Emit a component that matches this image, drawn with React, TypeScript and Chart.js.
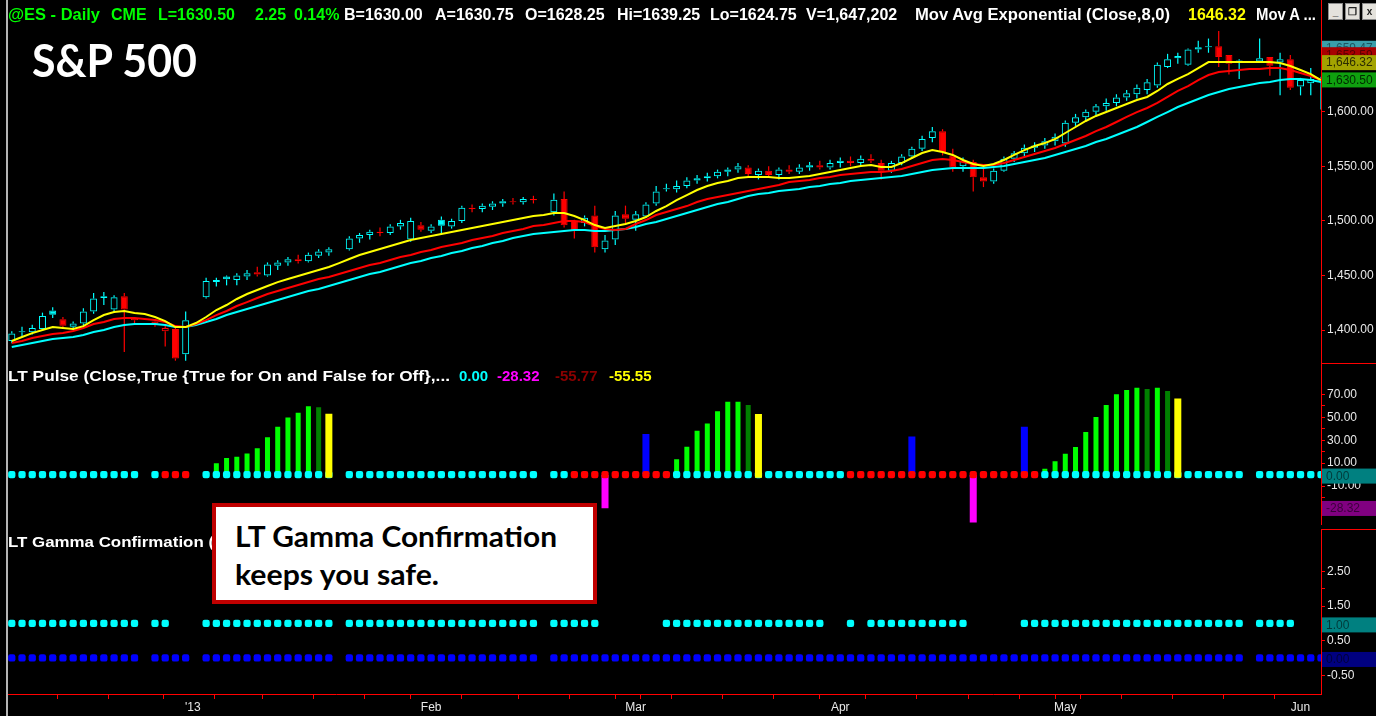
import React, { useEffect, useLayoutEffect, useRef } from 'react';
import { Chart, registerables } from 'chart.js';

Chart.register(...registerables);

// ======================= DATA =======================
// one slot per trading-day bar (index 0 .. 128); null = holiday slot without a bar
const opens: (number | null)[] = [
  1390, 1399, 1398, 1401, 1418, 1410, 1403, 1406, 1417, 1431,
  1419, 1431, 1409, null, 1408, 1399, 1401, 1378, null, 1430,
  1444, 1449, 1446, 1449, 1453, 1450, 1459, 1462, 1465, 1463,
  1468, 1471, null, 1474, 1484, 1487, 1490, 1489, 1495, 1483,
  1496, 1491, 1501, 1495, 1500, 1512, 1511, 1513, 1516, 1518,
  1517, 1520, null, 1508, 1520, 1500, 1498, 1505, 1474, 1483,
  1506, 1501, 1504, 1516, 1529, 1529, 1532, 1537, 1539, 1541,
  1545, 1547, 1549, 1542, 1546, 1542, 1547, 1545, 1549, 1551,
  1549, 1553, 1555, 1553, 1557, 1553, 1546, 1553, 1559, 1566,
  1576, 1582, 1560, 1550, 1554, 1540, 1536, 1546, 1557, 1562,
  1567, 1569, 1573, 1571, 1590, 1595, 1600, 1605, 1608, 1613,
  1616, 1620, 1624, 1641, 1651, 1643, 1657, 1659, 1660, 1652,
  1645, null, 1646, 1650, 1645, 1648, 1623, 1626, 1628.25,
];
const highs: (number | null)[] = [
  1399, 1403, 1405, 1416, 1421, 1412, 1408, 1420, 1434, 1435,
  1432, 1434, 1412, null, 1410, 1404, 1402, 1417, null, 1448,
  1448, 1450, 1452, 1455, 1458, 1462, 1464, 1467, 1469, 1471,
  1474, 1476, null, 1486, 1489, 1492, 1494, 1497, 1501, 1503,
  1499, 1497, 1504, 1502, 1514, 1515, 1516, 1518, 1520, 1521,
  1522, 1523, null, 1525, 1527, 1501, 1505, 1514, 1487, 1509,
  1514, 1509, 1517, 1532, 1534, 1537, 1540, 1542, 1544, 1547,
  1549, 1553, 1551, 1548, 1550, 1549, 1551, 1552, 1554, 1555,
  1556, 1558, 1559, 1560, 1561, 1556, 1555, 1561, 1568, 1578,
  1586, 1584, 1566, 1558, 1556, 1548, 1548, 1559, 1564, 1570,
  1572, 1576, 1580, 1592, 1598, 1602, 1607, 1612, 1616, 1620,
  1625, 1630, 1645, 1653, 1654, 1658, 1665, 1667, 1674, 1652,
  1648, null, 1667, 1650, 1654, 1652, 1631, 1640, 1632,
];
const lows: (number | null)[] = [
  1388, 1394, 1396, 1400, 1411, 1402, 1400, 1404, 1415, 1423,
  1416, 1380, 1406, null, 1403, 1385, 1372, 1372, null, 1429,
  1440, 1441, 1441, 1446, 1449, 1449, 1455, 1459, 1461, 1462,
  1466, 1468, null, 1473, 1480, 1483, 1486, 1487, 1492, 1481,
  1490, 1489, 1487, 1493, 1498, 1508, 1508, 1510, 1513, 1515,
  1515, 1516, null, 1505, 1494, 1484, 1495, 1471, 1471, 1478,
  1497, 1491, 1503, 1514, 1527, 1526, 1530, 1534, 1536, 1539,
  1541, 1544, 1540, 1538, 1540, 1538, 1543, 1543, 1546, 1547,
  1547, 1549, 1550, 1550, 1553, 1538, 1544, 1551, 1557, 1564,
  1572, 1560, 1545, 1545, 1527, 1531, 1534, 1545, 1554, 1559,
  1563, 1566, 1569, 1568, 1587, 1592, 1597, 1601, 1605, 1610,
  1612, 1616, 1622, 1640, 1644, 1642, 1654, 1654, 1641, 1634,
  1630, null, 1645, 1633, 1615, 1620, 1615, 1615, 1602,
];
const closes: (number | null)[] = [
  1397, 1398, 1402, 1413, 1414, 1404, 1406, 1417, 1429, 1429.5,
  1430, 1419, 1411, null, 1405, 1402, 1374, 1409, null, 1445,
  1446, 1446.5, 1450, 1452, 1451, 1460, 1462, 1465, 1463, 1469,
  1472, 1474, null, 1484, 1487, 1490, 1489, 1495, 1498, 1500,
  1492, 1495, 1495.5, 1500, 1512, 1511, 1514, 1516, 1518, 1517,
  1520, 1519, null, 1519.5, 1496, 1491, 1503, 1476, 1482, 1505,
  1502, 1506, 1515, 1527, 1530, 1532, 1537, 1539, 1541, 1545,
  1547, 1550, 1543, 1546, 1542, 1547, 1545, 1549, 1551, 1549,
  1553, 1555, 1553, 1557, 1555, 1546, 1553, 1559, 1566, 1575,
  1582, 1563, 1549, 1555, 1540, 1536, 1546, 1557, 1562, 1567,
  1569, 1573, 1577, 1590, 1595, 1600, 1605, 1608, 1613, 1617,
  1622, 1627, 1643, 1648, 1649, 1657, 1659, 1660, 1650, 1644,
  1647, null, 1649, 1642, 1648, 1622, 1629, 1630, 1630.5,
];
// Mov Avg Exponential (Close,8,0) - yellow
const emaFast: number[] = [
  1390.0, 1393.7, 1397.3, 1400.1, 1402.8, 1401.9, 1401.0, 1403.7, 1409.2, 1413.8,
  1416.6, 1417.5, 1415.6, 1414.7, 1412.0, 1408.3, 1402.8, 1402.8, 1406.5, 1412.0,
  1418.4, 1423.0, 1428.5, 1433.1, 1436.7, 1440.4, 1444.0, 1446.8, 1449.5, 1452.3,
  1455.0, 1457.8, 1461.4, 1465.1, 1468.8, 1471.5, 1474.3, 1477.0, 1479.8, 1482.5,
  1484.3, 1486.2, 1488.0, 1489.8, 1491.7, 1493.5, 1495.3, 1497.2, 1499.0, 1500.8,
  1502.7, 1504.5, 1505.4, 1507.2, 1507.2, 1504.5, 1500.8, 1496.2, 1493.5, 1495.3,
  1497.2, 1499.9, 1503.6, 1509.1, 1513.6, 1519.1, 1523.7, 1528.3, 1532.0, 1534.7,
  1536.5, 1539.3, 1540.2, 1540.2, 1540.2, 1539.3, 1539.3, 1540.2, 1541.1, 1543.0,
  1544.8, 1546.6, 1548.4, 1550.3, 1551.2, 1549.4, 1549.4, 1553.0, 1557.6, 1562.2,
  1564.9, 1563.1, 1560.4, 1555.8, 1552.1, 1550.3, 1552.1, 1555.8, 1560.4, 1564.9,
  1568.6, 1571.3, 1575.0, 1580.5, 1586.0, 1591.5, 1596.1, 1599.7, 1603.4, 1607.1,
  1610.7, 1613.5, 1619.0, 1625.4, 1630.0, 1634.5, 1640.0, 1645.5, 1645.5, 1645.5,
  1645.5, 1645.5, 1645.5, 1645.5, 1644.6, 1641.9, 1638.2, 1634.5, 1629.0,
];
// second average - red
const emaMid: number[] = [
  1388.2, 1390.0, 1392.8, 1394.6, 1396.4, 1397.3, 1399.2, 1401.9, 1405.6, 1407.4,
  1410.2, 1411.1, 1411.1, 1410.2, 1409.2, 1407.4, 1403.7, 1402.8, 1405.6, 1409.2,
  1413.8, 1417.5, 1422.1, 1425.7, 1429.4, 1433.1, 1435.8, 1438.5, 1441.3, 1444.0,
  1446.8, 1448.6, 1451.4, 1454.1, 1456.9, 1459.6, 1461.4, 1464.2, 1466.9, 1468.8,
  1471.5, 1473.3, 1476.1, 1477.9, 1479.8, 1482.5, 1484.3, 1486.2, 1488.9, 1490.8,
  1492.6, 1495.3, 1496.2, 1498.1, 1499.9, 1499.9, 1499.0, 1495.3, 1492.6, 1491.7,
  1492.6, 1497.2, 1500.8, 1505.4, 1508.2, 1510.9, 1513.6, 1517.3, 1520.1, 1521.9,
  1523.7, 1525.6, 1527.4, 1529.2, 1531.0, 1532.9, 1535.6, 1536.5, 1537.5, 1539.3,
  1540.2, 1542.0, 1543.0, 1543.9, 1544.8, 1544.8, 1545.7, 1547.5, 1550.3, 1553.0,
  1555.8, 1556.7, 1555.8, 1553.9, 1552.1, 1551.2, 1551.2, 1553.0, 1555.8, 1558.5,
  1561.3, 1564.0, 1566.8, 1570.4, 1574.1, 1577.8, 1582.3, 1586.0, 1590.6, 1595.2,
  1599.7, 1603.4, 1608.0, 1613.5, 1619.0, 1623.5, 1629.0, 1633.6, 1636.4, 1637.3,
  1638.2, 1639.1, 1639.1, 1640.0, 1640.0, 1638.2, 1635.4, 1632.7, 1629.0,
];
// third average - cyan
const emaSlow: number[] = [
  1384.5, 1386.4, 1388.2, 1390.0, 1391.8, 1392.8, 1393.7, 1395.5, 1398.3, 1400.1,
  1402.8, 1404.7, 1405.6, 1405.6, 1405.6, 1404.7, 1402.8, 1402.8, 1404.7, 1407.4,
  1410.2, 1413.8, 1416.6, 1419.3, 1422.1, 1424.8, 1427.6, 1430.3, 1433.1, 1435.8,
  1437.6, 1440.4, 1443.1, 1445.9, 1448.6, 1451.4, 1453.2, 1455.9, 1458.7, 1461.4,
  1463.3, 1466.0, 1467.9, 1470.6, 1472.4, 1475.2, 1477.0, 1479.8, 1481.6, 1484.3,
  1486.2, 1488.0, 1488.9, 1489.8, 1490.8, 1491.7, 1491.7, 1490.8, 1490.8, 1491.7,
  1492.6, 1494.4, 1497.2, 1499.0, 1501.7, 1504.5, 1507.2, 1510.0, 1512.7, 1515.5,
  1517.3, 1520.1, 1522.8, 1524.6, 1525.6, 1527.4, 1528.3, 1529.2, 1531.0, 1532.0,
  1533.8, 1534.7, 1536.5, 1537.5, 1538.4, 1539.3, 1540.2, 1541.1, 1543.0, 1544.8,
  1546.6, 1547.5, 1548.4, 1548.4, 1548.4, 1548.4, 1549.4, 1550.3, 1552.1, 1553.9,
  1555.8, 1557.6, 1560.4, 1563.1, 1565.8, 1568.6, 1572.3, 1575.0, 1578.7, 1582.3,
  1586.0, 1590.6, 1595.2, 1599.7, 1604.3, 1608.0, 1611.6, 1615.3, 1618.0, 1620.8,
  1622.6, 1624.5, 1626.3, 1627.2, 1629.0, 1630.0, 1630.0, 1629.0, 1627.2,
];
const priceMarkers = [1659.47, 1653.59, 1646.32, 1630.5];
const priceTicks = [1400, 1450, 1500, 1550, 1600];

// LT Pulse: dot state at 0 per bar, as runs (c = on/cyan, r = off/red, . = none)
const pulseDotRuns: [string, number][] = [
  ['c', 13], ['.', 1], ['c', 1], ['r', 3], ['.', 1], ['c', 13], ['.', 1], ['c', 19], ['.', 1],
  ['c', 2], ['r', 10], ['c', 17], ['r', 19], ['c', 20], ['.', 1], ['c', 7],
];
// histogram [barIndex, value]
const pulseRise: [number, number][] = [
  [20, 10], [21, 14.4], [22, 15.6], [23, 18.4], [24, 23.1], [25, 32.7], [26, 41.8], [27, 49.9], [28, 54], [29, 59.8],
  [65, 13.4], [66, 24.4], [67, 38.3], [68, 44.6], [69, 55.4], [70, 63.7], [71, 63.7],
  [101, 5.1], [102, 11.7], [103, 18.3], [104, 24.1], [105, 37.2], [106, 50.4], [107, 60.9], [108, 70.3], [109, 73.9], [110, 75.9], [112, 75.9],
];
const pulseFade: [number, number][] = [[30, 59.0], [72, 60.9], [111, 74.8], [113, 73.1]];
const pulseExit: [number, number][] = [[31, 53.3], [73, 52.9], [114, 66.5]];
const pulseSignal: [number, number][] = [[62, 35.5], [88, 33.3], [99, 41.8]];
const pulseNeg: [number, number][] = [[58, -29.5], [94, -42]];
const pulseMarkers = [0, -28.32];
const pulseTicks = [-20, -10, 0, 10, 20, 30, 40, 50, 60, 70];
const pulseLabelled = [70, 50, 30, 10, -10];

// LT Gamma Confirmation: runs (1 = plotted, . = none)
const gammaConfirmRuns: [string, number][] = [
  ['1', 13], ['.', 1], ['1', 2], ['.', 3], ['1', 13], ['.', 1], ['1', 19], ['.', 1], ['1', 5], ['.', 6],
  ['1', 16], ['.', 2], ['1', 1], ['.', 1], ['1', 10], ['.', 5], ['1', 22], ['.', 1], ['1', 4], ['.', 3],
];
const gammaBaseRuns: [string, number][] = [
  ['1', 13], ['.', 1], ['1', 4], ['.', 1], ['1', 13], ['.', 1], ['1', 19], ['.', 1], ['1', 68], ['.', 1], ['1', 7],
];
const gammaMarkers = [1, 0];
const gammaTicks = [-0.5, 0, 0.5, 1, 1.5, 2, 2.5];
const gammaLabelled = [2.5, 1.5, 0.5, -0.5];

// x axis
const monthIdx = [17.7, 41, 61, 81, 103, 126];
const monthLabels = ["'13", 'Feb', 'Mar', 'Apr', 'May', 'Jun'];
const weekIdx = [2, 7, 12, 22, 27, 32, 37, 47, 52, 57, 62, 67, 72, 77, 86, 91, 96, 101, 106, 111, 116, 121];

// ======================= STYLE / LAYOUT =======================
const W = 1376;
const PLOT_LEFT = 8;
const AXIS_W = 55;
const X_MIN = -0.37;
const X_MAX = 128;
const CYAN = '#00ffff';
const RED = '#ff0000';
const YELLOW = '#ffff00';
const AXIS_RED = '#ff0000';
const LABEL = '#e8e8e8';
const FONT = '"Liberation Sans", Arial, sans-serif';

Chart.defaults.font.family = FONT;

function expandRuns(runs: [string, number][]): string[] {
  const out: string[] = [];
  runs.forEach(([s, n]) => {
    for (let k = 0; k < n; k++) out.push(s);
  });
  return out;
}

function fmt2(v: number): string {
  return v.toLocaleString('en-US', { minimumFractionDigits: 2, maximumFractionDigits: 2 });
}

type Marker = { v: number; bg: string; fg: string };

function markerPlugin(markers: Marker[], topLine: boolean) {
  return {
    id: 'markers',
    afterDraw(chart: any) {
      const ctx = chart.ctx;
      const area = chart.chartArea;
      const ys = chart.scales.y;
      ctx.save();
      ctx.strokeStyle = AXIS_RED;
      ctx.lineWidth = 1;
      ctx.beginPath();
      ctx.moveTo(Math.round(area.right) + 0.5, 0);
      ctx.lineTo(Math.round(area.right) + 0.5, area.bottom);
      if (topLine) {
        ctx.moveTo(area.right, 0.5);
        ctx.lineTo(chart.width, 0.5);
      }
      ctx.stroke();
      for (const m of markers) {
        const cy = ys.getPixelForValue(m.v) + 1.5;
        ctx.fillStyle = m.bg;
        ctx.fillRect(area.right + 1, cy - 7.5, chart.width - area.right - 1, 15);
        ctx.fillStyle = m.fg;
        ctx.font = `12px ${FONT}`;
        ctx.textBaseline = 'middle';
        ctx.textAlign = 'left';
        ctx.fillText(fmt2(m.v), area.right + 5, cy + 0.5);
      }
      ctx.restore();
    },
  };
}

function yAxis(min: number, max: number, ticks: number[], labelled: number[] | null) {
  return {
    type: 'linear',
    position: 'right',
    min,
    max,
    bounds: 'data',
    afterFit: (s: any) => {
      s.width = AXIS_W;
      s.paddingTop = 0;
      s.paddingBottom = 0;
    },
    afterBuildTicks: (s: any) => {
      s.ticks = ticks.map((v) => ({ value: v }));
    },
    ticks: {
      autoSkip: false,
      padding: 2,
      color: LABEL,
      font: { size: 12, family: FONT },
      callback: (v: number) => (labelled === null || labelled.includes(v) ? fmt2(v) : ''),
    },
    grid: { drawOnChartArea: false, color: AXIS_RED, tickLength: 4, tickColor: AXIS_RED },
    border: { display: true, color: AXIS_RED, width: 1 },
  };
}

function xAxis(show: boolean) {
  const all = [...weekIdx, ...monthIdx].sort((a, b) => a - b);
  return {
    type: 'linear',
    display: show,
    min: X_MIN,
    max: X_MAX,
    bounds: 'data',
    offset: false,
    afterFit: (s: any) => {
      if (show) s.height = 22;
      s.paddingLeft = 0;
      s.paddingRight = 0;
    },
    afterBuildTicks: (s: any) => {
      s.ticks = all.map((v) => ({ value: v }));
    },
    ticks: {
      autoSkip: false,
      maxRotation: 0,
      padding: 1,
      color: LABEL,
      font: { size: 12, family: FONT },
      callback: (v: number) => {
        const k = monthIdx.indexOf(v);
        return k >= 0 ? monthLabels[k] : '';
      },
    },
    grid: { drawOnChartArea: false, color: AXIS_RED, tickLength: 5, tickColor: AXIS_RED },
    border: { display: true, color: AXIS_RED, width: 1 },
  };
}

const baseOptions = {
  animation: false,
  responsive: false,
  maintainAspectRatio: false,
  devicePixelRatio: 1,
  events: [],
  layout: { padding: { left: PLOT_LEFT, right: 0, top: 0, bottom: 0 } },
  plugins: { legend: { display: false }, tooltip: { enabled: false }, title: { display: false } },
};

function makePrice(canvas: HTMLCanvasElement) {
  const bodies: any[] = [];
  const bodyFill: string[] = [];
  const bodyLine: string[] = [];
  const upper: any[] = [];
  const upperCol: string[] = [];
  const lower: any[] = [];
  const lowerCol: string[] = [];
  let prev: number | null = null;
  closes.forEach((c, i) => {
    const o = opens[i];
    const h = highs[i];
    const l = lows[i];
    if (c == null || o == null || h == null || l == null) return;
    const up = prev == null ? c >= o : c >= prev;
    const col = up ? CYAN : RED;
    const hollow = c >= o;
    const top = Math.max(o, c);
    const bot = Math.min(o, c);
    bodies.push({ x: i, y: [bot, top] });
    bodyFill.push(hollow ? 'rgba(0,0,0,0)' : col);
    bodyLine.push(col);
    if (h > top) {
      upper.push({ x: i, y: [top, h] });
      upperCol.push(col);
    }
    if (l < bot) {
      lower.push({ x: i, y: [l, bot] });
      lowerCol.push(col);
    }
    prev = c;
  });
  const line = (arr: number[], color: string, order: number) => ({
    type: 'line',
    data: arr.map((v, i) => ({ x: i, y: v })),
    borderColor: color,
    borderWidth: 2,
    pointRadius: 0,
    tension: 0,
    order,
  });
  return new Chart(canvas, {
    type: 'bar',
    data: {
      datasets: [
        line(emaFast, YELLOW, 0),
        line(emaMid, RED, 1),
        line(emaSlow, CYAN, 2),
        {
          type: 'bar', data: bodies, backgroundColor: bodyFill, borderColor: bodyLine, borderWidth: 1,
          borderSkipped: false, barThickness: 7, minBarLength: 1, grouped: false, inflateAmount: 0, order: 3,
        },
        { type: 'bar', data: upper, backgroundColor: upperCol, borderWidth: 0, barThickness: 1.2, grouped: false, inflateAmount: 0, order: 4 },
        { type: 'bar', data: lower, backgroundColor: lowerCol, borderWidth: 0, barThickness: 1.2, grouped: false, inflateAmount: 0, order: 5 },
      ] as any,
    },
    options: {
      ...baseOptions,
      scales: {
        x: xAxis(false),
        y: yAxis(1369.9, 1702.3, priceTicks, null),
      },
    } as any,
    plugins: [
      markerPlugin(
        [
          { v: priceMarkers[0], bg: '#3a9eaa', fg: '#1d5660' },
          { v: priceMarkers[1], bg: '#a80000', fg: '#560000' },
          { v: priceMarkers[2], bg: '#a3a300', fg: '#2c2c00' },
          { v: priceMarkers[3], bg: '#0fa00f', fg: '#002a00' },
        ],
        false,
      ),
    ],
  });
}

function dots(states: string[], key: string, y: number, color: string, order: number) {
  const pts: any[] = [];
  states.forEach((s, i) => {
    if (s === key) pts.push({ x: i, y });
  });
  return {
    type: 'line',
    data: pts,
    showLine: false,
    pointStyle: 'rectRounded',
    pointRadius: 4.25,
    pointBackgroundColor: color,
    pointBorderColor: color,
    pointBorderWidth: 0,
    clip: 0,
    order,
  };
}

function hist(pairs: [number, number][], color: string, thickness: number, order: number, base?: number) {
  const ds: any = {
    type: 'bar',
    data: pairs.map(([i, v]) => ({ x: i, y: v })),
    backgroundColor: color,
    borderWidth: 0,
    barThickness: thickness,
    grouped: false,
    inflateAmount: 0,
    order,
  };
  if (base !== undefined) ds.base = base;
  return ds;
}

function makePulse(canvas: HTMLCanvasElement) {
  const states = expandRuns(pulseDotRuns);
  return new Chart(canvas, {
    type: 'bar',
    data: {
      datasets: [
        hist(pulseExit, YELLOW, 7, 0, -2.8),
        dots(states, 'c', 0, CYAN, 1),
        dots(states, 'r', 0, RED, 2),
        hist(pulseRise, '#00ff00', 5, 3),
        hist(pulseFade, '#008000', 5, 4),
        hist(pulseSignal, '#0000ff', 7, 5),
        hist(pulseNeg, '#ff00ff', 7, 6),
      ] as any,
    },
    options: {
      ...baseOptions,
      scales: {
        x: xAxis(false),
        y: yAxis(-43.9, 93.9, pulseTicks, pulseLabelled),
      },
    } as any,
    plugins: [
      markerPlugin(
        [
          { v: pulseMarkers[0], bg: '#008080', fg: '#003a3a' },
          { v: pulseMarkers[1], bg: '#800080', fg: '#3a003a' },
        ],
        true,
      ),
    ],
  });
}

function makeGamma(canvas: HTMLCanvasElement) {
  const conf = expandRuns(gammaConfirmRuns);
  const base = expandRuns(gammaBaseRuns);
  return new Chart(canvas, {
    type: 'bar',
    data: {
      datasets: [dots(conf, '1', 1, CYAN, 0), dots(base, '1', 0, '#0000ff', 1)] as any,
    },
    options: {
      ...baseOptions,
      scales: {
        x: xAxis(true),
        y: yAxis(-1.043, 3.609, gammaTicks, gammaLabelled),
      },
    } as any,
    plugins: [
      markerPlugin(
        [
          { v: gammaMarkers[0], bg: '#008080', fg: '#003a3a' },
          { v: gammaMarkers[1], bg: '#000080', fg: '#00003a' },
        ],
        true,
      ),
    ],
  });
}

// ======================= TEXT OVERLAYS =======================
function FitText(props: { text: string; x: number; y: number; w?: number; font: string; color: string }) {
  const ref = useRef<HTMLSpanElement>(null);
  useLayoutEffect(() => {
    const el = ref.current;
    if (!el || !props.w) return;
    el.style.transform = '';
    const nat = el.getBoundingClientRect().width;
    if (nat > 0) el.style.transform = `scaleX(${props.w / nat})`;
  });
  return (
    <span
      ref={ref}
      style={{
        position: 'absolute',
        left: props.x,
        top: props.y,
        font: props.font,
        lineHeight: 1,
        color: props.color,
        whiteSpace: 'nowrap',
        transformOrigin: '0 0',
      }}
    >
      {props.text}
    </span>
  );
}

const HDR_FONT = `bold 16px ${FONT}`;
const LBL_FONT = `bold 15px ${FONT}`;
const GREEN_TXT = '#00ff00';
const WHITE_TXT = '#ffffff';

const headerTokens: { t: string; c: string; x: number; w?: number }[] = [
  { t: '@ES - Daily', c: GREEN_TXT, x: 8, w: 92 },
  { t: 'CME', c: GREEN_TXT, x: 111 },
  { t: 'L=1630.50', c: GREEN_TXT, x: 158 },
  { t: '2.25', c: GREEN_TXT, x: 255 },
  { t: '0.14%', c: GREEN_TXT, x: 294 },
  { t: 'B=1630.00', c: WHITE_TXT, x: 344 },
  { t: 'A=1630.75', c: WHITE_TXT, x: 435 },
  { t: 'O=1628.25', c: WHITE_TXT, x: 525 },
  { t: 'Hi=1639.25', c: WHITE_TXT, x: 617 },
  { t: 'Lo=1624.75', c: WHITE_TXT, x: 710 },
  { t: 'V=1,647,202', c: WHITE_TXT, x: 806 },
  { t: 'Mov Avg Exponential (Close,8,0)', c: WHITE_TXT, x: 915, w: 255 },
  { t: '1646.32', c: YELLOW, x: 1188 },
  { t: 'Mov A ...', c: WHITE_TXT, x: 1256, w: 60 },
];

export default function App() {
  const priceRef = useRef<HTMLCanvasElement>(null);
  const pulseRef = useRef<HTMLCanvasElement>(null);
  const gammaRef = useRef<HTMLCanvasElement>(null);

  useEffect(() => {
    document.body.style.margin = '0';
    document.body.style.background = '#000';
    const charts = [
      makePrice(priceRef.current as HTMLCanvasElement),
      makePulse(pulseRef.current as HTMLCanvasElement),
      makeGamma(gammaRef.current as HTMLCanvasElement),
    ];
    return () => charts.forEach((c) => c.destroy());
  }, []);

  const btn = (left: number, glyph: string) => (
    <div
      style={{
        position: 'absolute', left, top: 3, width: 15, height: 17, background: '#e4e2dc',
        border: '1px solid #8a8a8a', boxSizing: 'border-box', color: '#202020',
        font: `bold 10px ${FONT}`, lineHeight: '15px', textAlign: 'center',
      }}
    >
      {glyph}
    </div>
  );

  return (
    <div style={{ position: 'fixed', left: 0, top: 0, width: W, height: 716, background: '#000', overflow: 'hidden' }}>
      <canvas ref={priceRef} width={W} height={363} style={{ position: 'absolute', left: 0, top: 0, width: W, height: 363 }} />
      <canvas ref={pulseRef} width={W} height={166} style={{ position: 'absolute', left: 0, top: 363, width: W, height: 166 }} />
      <canvas ref={gammaRef} width={W} height={187} style={{ position: 'absolute', left: 0, top: 529, width: W, height: 187 }} />

      <div style={{ position: 'absolute', left: 6, top: 0, width: 2, height: 716, background: '#b4b4b4' }} />

      <div style={{ position: 'absolute', left: 0, top: 0, width: 1320, height: 28, overflow: 'hidden' }}>
        {headerTokens.map((k, i) => (
          <FitText key={i} text={k.t} x={k.x} y={6.5} w={k.w} font={HDR_FONT} color={k.c} />
        ))}
      </div>
      {btn(1328, '_')}
      {btn(1345, '❐')}
      {btn(1362, 'x')}

      <FitText text="S&P 500" x={32} y={37} w={165} font={`bold 46px Lato, "Open Sans", sans-serif`} color="#ffffff" />

      <FitText text="LT Pulse (Close,True {True for On and False for Off},..." x={8} y={367.5} w={442} font={LBL_FONT} color={WHITE_TXT} />
      <FitText text="0.00" x={459} y={367.5} font={LBL_FONT} color={CYAN} />
      <FitText text="-28.32" x={497} y={367.5} font={LBL_FONT} color="#ff00ff" />
      <FitText text="-55.77" x={555} y={367.5} font={LBL_FONT} color="#8b0000" />
      <FitText text="-55.55" x={609} y={367.5} font={LBL_FONT} color={YELLOW} />

      <FitText text="LT Gamma Confirmation (" x={8} y={533.5} w={206} font={LBL_FONT} color={WHITE_TXT} />

      <div
        style={{
          position: 'absolute', left: 212, top: 503, width: 385, height: 101, background: '#ffffff',
          border: '4px solid #c00000', boxSizing: 'border-box',
        }}
      />
      <FitText text="LT Gamma Confirmation" x={235} y={521.3} w={322} font={`bold 29px Lato, "Open Sans", sans-serif`} color="#000000" />
      <FitText text="keeps you safe." x={235} y={559.3} w={204} font={`bold 29px Lato, "Open Sans", sans-serif`} color="#000000" />
    </div>
  );
}
